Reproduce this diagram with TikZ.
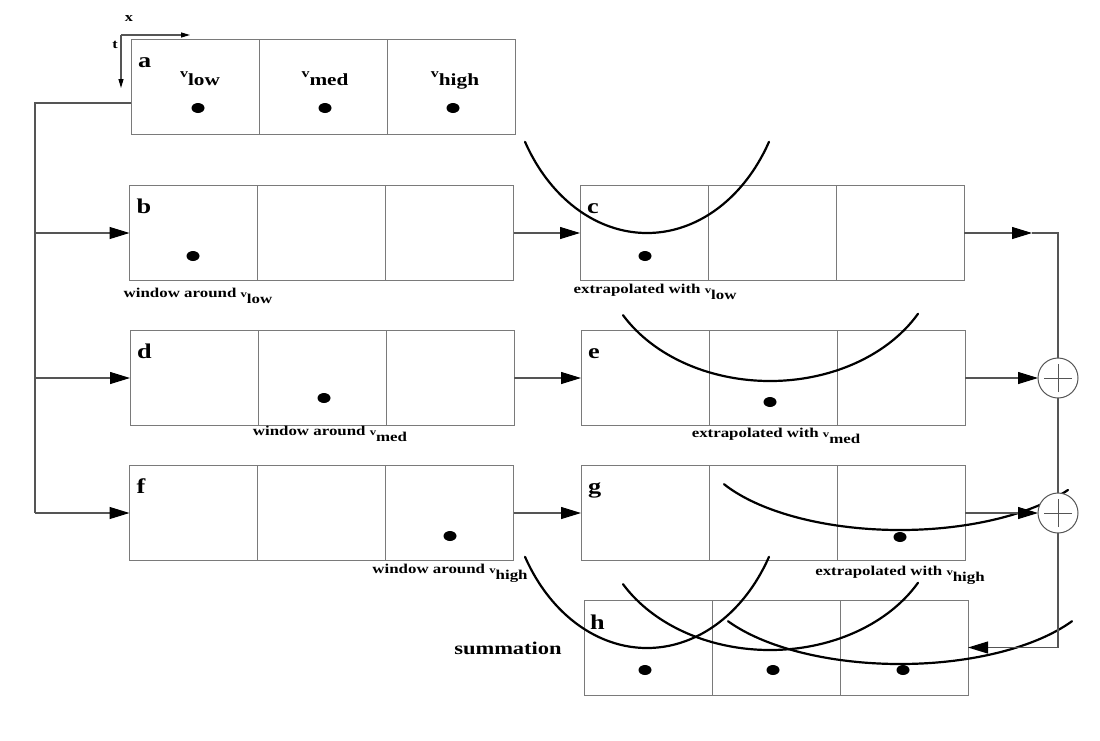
\documentclass[tikz,border=0pt]{standalone}
\usepackage{fontspec}
\usepackage{graphicx}
\setmainfont{Liberation Serif}[FakeStretch=1.25]
\usetikzlibrary{arrows.meta,calc}
\definecolor{boxgray}{HTML}{7A7A7A}
\definecolor{linegray}{HTML}{555555}
\newcommand\vsub[1]{\scalebox{0.75}{v}\raisebox{-1.1ex}{#1}}
\begin{document}
\begin{tikzpicture}[x=1pt,y=-1pt,
  strip/.style={draw=boxgray, line width=0.9pt, minimum width=384pt, minimum height=95pt, inner sep=0pt, outer sep=0pt,
    path picture={\foreach \f in {0.3333,0.6667}{\draw[boxgray,line width=0.9pt]
      ($(path picture bounding box.north west)!\f!(path picture bounding box.north east)$) --
      ($(path picture bounding box.south west)!\f!(path picture bounding box.south east)$);}}},
  sumc/.style={circle, draw=linegray, line width=1pt, fill=white, minimum size=40pt, inner sep=0pt, outer sep=0pt,
    path picture={\draw[linegray,line width=0.9pt]
      ([xshift=-14pt]path picture bounding box.center) -- ([xshift=14pt]path picture bounding box.center)
      ([yshift=-14pt]path picture bounding box.center) -- ([yshift=14pt]path picture bounding box.center);}},
  conn/.style={draw=linegray, line width=1.1pt},
  arr/.style={conn, -{Triangle[length=20pt,width=12pt,color=black]}},
  smallarr/.style={conn, -{Triangle[length=9pt,width=5pt,color=black]}},
  curve/.style={draw=black, line width=2.2pt, line cap=round},
  boxlab/.style={font=\fontsize{21}{23}\selectfont\bfseries, inner sep=0pt, anchor=base west},
  vlab/.style={font=\fontsize{17}{19}\selectfont\bfseries, inner sep=0pt, anchor=base},
  small/.style={font=\fontsize{13.5}{15}\selectfont\bfseries, inner sep=0pt, anchor=base},
  axlab/.style={font=\fontsize{13}{15}\selectfont\bfseries, inner sep=0pt},
  dot/.style={fill=black}
]
\useasboundingbox (0,0) rectangle (1100,740);

% strips
\node[strip] (a) at (323,86.5) {};
\node[strip] (b) at (321.5,233) {};
\node[strip] (c) at (772,233) {};
\node[strip] (d) at (322,378) {};
\node[strip] (e) at (773,378) {};
\node[strip] (f) at (321.5,513) {};
\node[strip] (g) at (773,513) {};
\node[strip] (h) at (776,647.5) {};

% dots
\fill[dot] (198,108) ellipse [x radius=6.5pt, y radius=5pt];
\fill[dot] (325,108) ellipse [x radius=6.5pt, y radius=5pt];
\fill[dot] (453,108) ellipse [x radius=6.5pt, y radius=5pt];
\fill[dot] (193,256) ellipse [x radius=6.5pt, y radius=5pt];
\fill[dot] (645,256) ellipse [x radius=6.5pt, y radius=5pt];
\fill[dot] (324,398) ellipse [x radius=6.5pt, y radius=5pt];
\fill[dot] (770,402) ellipse [x radius=6.5pt, y radius=5pt];
\fill[dot] (450,536) ellipse [x radius=6.5pt, y radius=5pt];
\fill[dot] (900,537) ellipse [x radius=6.5pt, y radius=5pt];
\fill[dot] (645,670) ellipse [x radius=6.5pt, y radius=5pt];
\fill[dot] (773,670) ellipse [x radius=6.5pt, y radius=5pt];
\fill[dot] (903,670) ellipse [x radius=6.5pt, y radius=5pt];

% axes
\coordinate (o) at (121,35);
\coordinate (xe) at (190,35);
\coordinate (te) at (121,88);
\draw[smallarr] (o) -- (xe);
\draw[smallarr] (o) -- (te);
\node[axlab] (xl) at (129,19) {x};
\node[axlab] (tl) at (115,45) {t};

% left feed
\coordinate (j0) at (35,103);
\coordinate (j1) at (35,233);
\coordinate (j2) at (35,378);
\coordinate (j3) at (35,513);
\draw[conn] ([yshift=-16.5pt]a.west) -- (j0) -- (j3);
\draw[arr] (j3) -- (f.west);
\draw[arr] (j1) -- (b.west);
\draw[arr] (j2) -- (d.west);

% middle arrows
\draw[arr] (b.east) -- (c.west);
\draw[arr] (d.east) -- (e.west);
\draw[arr] (f.east) -- (g.west);

% curves (elliptic arcs)
\draw[curve] plot[domain=525:769,samples=90] (\x,{233-179*(1-sqrt(1-((\x-647)/140)*((\x-647)/140)))});
\draw[curve] plot[domain=623:918,samples=90] (\x,{381-130*(1-sqrt(1-((\x-770)/169)*((\x-770)/169)))});
\draw[curve] plot[domain=724:1068,samples=90] (\x,{530-90*(1-sqrt(1-((\x-900)/202)*((\x-900)/202)))});
\draw[curve] plot[domain=525:769,samples=90] (\x,{648-179*(1-sqrt(1-((\x-647)/140)*((\x-647)/140)))});
\draw[curve] plot[domain=623:918,samples=90] (\x,{650-130*(1-sqrt(1-((\x-770)/169)*((\x-770)/169)))});
\draw[curve] plot[domain=728:1072,samples=90] (\x,{664-90*(1-sqrt(1-((\x-900)/202)*((\x-900)/202)))});

% summing
\node[sumc] (s1) at (1058,378) {};
\node[sumc] (s2) at (1058,513) {};
\coordinate (cm) at (1032,233);
\coordinate (ck) at (1058,233);
\coordinate (hk) at (1058,647.5);
\draw[arr] (c.east) -- (cm);
\draw[conn] (cm) -- (ck) -- (s1.north);
\draw[arr] (e.east) -- (s1.west);
\draw[conn] (s1.south) -- (s2.north);
\draw[arr] (g.east) -- (s2.west);
\draw[conn] (s2.south) -- (hk);
\draw[arr] (hk) -- (h.east);

% box letters
\node[boxlab] (la) at ([shift={(7pt,-28pt)}]a.north west) {a};
\node[boxlab] (lb) at ([shift={(7pt,-28pt)}]b.north west) {b};
\node[boxlab] (lc) at ([shift={(7pt,-28pt)}]c.north west) {c};
\node[boxlab] (ld) at ([shift={(7pt,-28pt)}]d.north west) {d};
\node[boxlab] (le) at ([shift={(7pt,-28pt)}]e.north west) {e};
\node[boxlab] (lf) at ([shift={(7pt,-28pt)}]f.north west) {f};
\node[boxlab] (lg) at ([shift={(7pt,-28pt)}]g.north west) {g};
\node[boxlab] (lh) at ([shift={(6pt,-29pt)}]h.north west) {h};

% velocity labels
\node[vlab] (vl) at (200,77) {\vsub{low}};
\node[vlab] (vm) at (325,77) {\vsub{med}};
\node[vlab] (vh) at (455,77) {\vsub{high}};

% captions
\node[small] (wl) at (198,297) {window around \vsub{low}};
\node[small] (wm) at (330,435) {window around \vsub{med}};
\node[small] (wh) at (450,573) {window around \vsub{high}};
\node[small] (el) at (655,293) {extrapolated with \vsub{low}};
\node[small] (em) at (776,437) {extrapolated with \vsub{med}};
\node[small] (eh) at (900,575) {extrapolated with \vsub{high}};
\node[font=\fontsize{18}{20}\selectfont\bfseries, inner sep=0pt] (sum) at (508,648) {summation};
\end{tikzpicture}
\end{document}
